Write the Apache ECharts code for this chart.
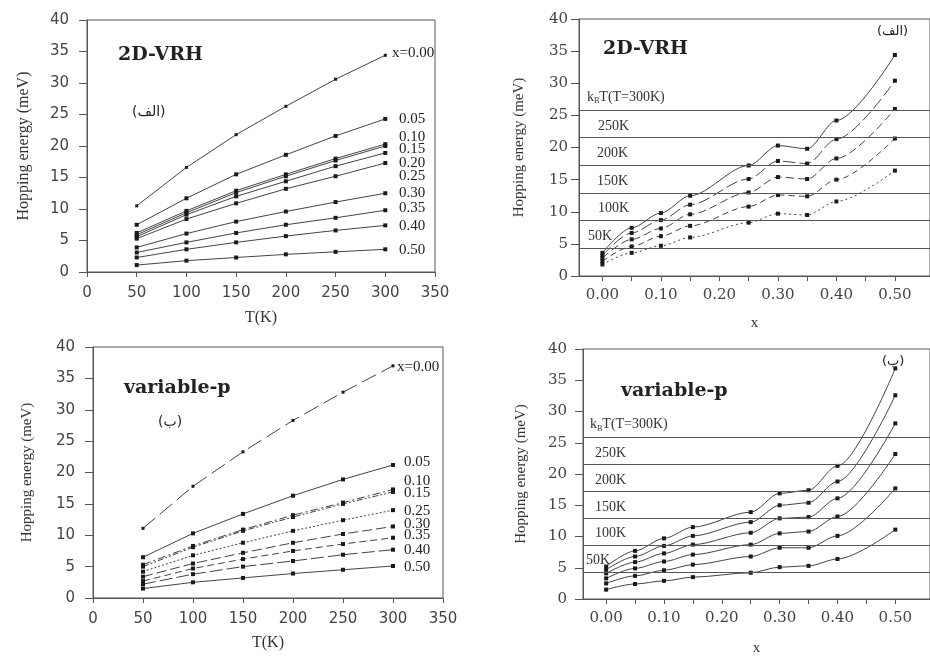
<!DOCTYPE html>
<html><head><meta charset="utf-8">
<script src="https://cdn.jsdelivr.net/npm/echarts@6/dist/echarts.min.js"></script>
<style>html,body{margin:0;padding:0;background:#fff}#c{width:930px;height:657px}</style>
</head><body><div id="c"></div>
<script>
// ---- data ----
const T_K = [50, 100, 150, 200, 250, 300];
const compX = [0, 0.05, 0.10, 0.15, 0.25, 0.30, 0.35, 0.40, 0.50];
const xTickLabels = [0, 0.1, 0.2, 0.3, 0.4, 0.5];
const xTickMarks = [0, 0.05, 0.1, 0.15, 0.2, 0.25, 0.3, 0.35, 0.4, 0.45, 0.5];

// 2D-VRH, energy vs T for each x
const vrhNames = ['x=0.00', '0.05', '0.10', '0.15', '0.20', '0.25', '0.30', '0.35', '0.40', '0.50'];
const vrhX000 = [10.5, 16.6, 21.8, 26.3, 30.6, 34.4];
const vrhX005 = [7.5, 11.7, 15.5, 18.6, 21.6, 24.3];
const vrhX010 = [6.2, 9.7, 12.9, 15.5, 18.0, 20.3];
const vrhX015 = [5.9, 9.4, 12.6, 15.2, 17.7, 20.0];
const vrhX020 = [5.6, 9.1, 12.0, 14.4, 16.8, 18.9];
const vrhX025 = [5.3, 8.4, 10.9, 13.2, 15.2, 17.3];
const vrhX030 = [3.9, 6.1, 8.0, 9.6, 11.1, 12.5];
const vrhX035 = [3.1, 4.7, 6.2, 7.5, 8.6, 9.8];
const vrhX040 = [2.3, 3.6, 4.7, 5.7, 6.6, 7.4];
const vrhX050 = [1.1, 1.8, 2.3, 2.8, 3.2, 3.6];

// variable-p, energy vs T for each x
const varpNames = ['x=0.00', '0.05', '0.10', '0.15', '0.25', '0.30', '0.35', '0.40', '0.50'];
const varpX000 = [11.1, 17.8, 23.3, 28.3, 32.8, 37.0];
const varpX005 = [6.5, 10.3, 13.4, 16.3, 18.9, 21.2];
const varpX010 = [5.3, 8.3, 10.9, 13.2, 15.2, 17.3];
const varpX015 = [5.0, 8.1, 10.7, 12.9, 15.0, 16.9];
const varpX025 = [4.2, 6.8, 8.8, 10.7, 12.4, 14.0];
const varpX030 = [3.4, 5.5, 7.2, 8.8, 10.2, 11.4];
const varpX035 = [2.7, 4.7, 6.2, 7.5, 8.6, 9.6];
const varpX040 = [2.2, 3.8, 5.0, 5.9, 6.9, 7.7];
const varpX050 = [1.5, 2.5, 3.2, 3.9, 4.5, 5.1];

// 2D-VRH, energy vs x for each T
const vrhT300 = [3.6, 7.5, 9.8, 12.5, 17.2, 20.3, 19.8, 24.2, 34.4];
const vrhT250 = [3.2, 6.7, 8.7, 11.1, 15.1, 17.9, 17.5, 21.3, 30.4];
const vrhT200 = [2.8, 5.7, 7.4, 9.6, 13.0, 15.4, 15.1, 18.3, 26.0];
const vrhT150 = [2.3, 4.6, 6.2, 7.8, 10.8, 12.6, 12.4, 15.0, 21.4];
const vrhT100 = [1.8, 3.6, 4.7, 6.0, 8.3, 9.7, 9.5, 11.6, 16.4];

// variable-p, energy vs x for each T
const varpT300 = [5.2, 7.7, 9.7, 11.5, 13.9, 16.9, 17.4, 21.3, 36.9];
const varpT250 = [4.7, 6.8, 8.5, 10.1, 12.3, 15.0, 15.4, 18.8, 32.6];
const varpT200 = [4.1, 5.9, 7.3, 8.7, 10.6, 12.9, 13.1, 16.1, 28.1];
const varpT150 = [3.3, 4.9, 6.0, 7.1, 8.7, 10.5, 10.8, 13.2, 23.2];
const varpT100 = [2.5, 3.7, 4.6, 5.5, 6.8, 8.2, 8.2, 10.1, 17.7];
const varpT50  = [1.5, 2.4, 2.9, 3.5, 4.2, 5.1, 5.3, 6.4, 11.1];

// thermal energy k_B T lines (meV)
const kbValues = [25.85, 21.54, 17.23, 12.93, 8.62, 4.31];
const kbLabels = ['{a|k}{s|B}{a|T(T=300K)}', '250K', '200K', '150K', '100K', '50K'];

// ---- build ----
const pair = (xs, ys) => xs.map((x, i) => [x, ys[i]]);
const SERIF = '"Liberation Serif", "Times New Roman", serif';
const DSERIF = '"DejaVu Serif", serif';
const SANS = '"DejaVu Sans", sans-serif';
const LC = '#444', MC = '#1a1a1a', AX = '#555';

function lineSeries(idx, data, dash, smooth, size) {
  return {
    type: 'line', xAxisIndex: idx, yAxisIndex: idx, data: data,
    symbol: 'rect', symbolSize: size || 4, smooth: smooth || false, smoothMonotone: 'x',
    lineStyle: { color: LC, width: 1, type: dash || 'solid' },
    itemStyle: { color: MC }, animation: false, z: 3
  };
}

const grids = [
  { left: 87, top: 20, width: 348, height: 252 },
  { left: 579, top: 19, width: 366, height: 257 },
  { left: 93, top: 347, width: 350, height: 251 },
  { left: 583, top: 349, width: 365, height: 255 }
].map(g => Object.assign(g, { show: true, borderColor: AX, borderWidth: 1, backgroundColor: 'transparent' }));

function tAxis(idx, gap, nameGap) {
  return {
    type: 'value', gridIndex: idx, min: 0, max: 350, interval: 50,
    name: 'T(K)', nameLocation: 'middle', nameGap: nameGap,
    nameTextStyle: { fontFamily: SERIF, fontSize: 16, color: '#333' },
    axisLine: { show: true, onZero: false, lineStyle: { color: AX } },
    axisTick: { show: true, inside: false, length: 5, lineStyle: { color: AX } },
    axisLabel: { margin: gap, fontFamily: SANS, fontSize: 15, color: '#444' },
    splitLine: { show: false }
  };
}
function xAxisComp(idx, nameGap) {
  return {
    type: 'value', gridIndex: idx, min: -0.04, max: 0.56,
    name: 'x', nameLocation: 'middle', nameGap: nameGap,
    nameTextStyle: { fontFamily: SERIF, fontSize: 15, color: '#333' },
    axisLine: { show: true, onZero: false, lineStyle: { color: AX } },
    axisTick: { show: true, inside: false, length: 5, customValues: xTickMarks, lineStyle: { color: AX } },
    axisLabel: { margin: 12, fontFamily: DSERIF, fontSize: 15, color: '#444', customValues: xTickLabels,
      formatter: v => v.toFixed(2) },
    splitLine: { show: false }
  };
}
function eAxis(idx, font, margin, nameGap, fs) {
  return {
    type: 'value', gridIndex: idx, min: 0, max: 40, interval: 5,
    name: 'Hopping energy (meV)', nameLocation: 'middle', nameGap: nameGap,
    nameTextStyle: { fontFamily: SERIF, fontSize: fs, color: '#333' },
    axisLine: { show: true, onZero: false, lineStyle: { color: AX } },
    axisTick: { show: true, inside: false, length: 8, lineStyle: { color: AX } },
    axisLabel: { margin: margin, fontFamily: font, fontSize: 15, color: '#444' },
    splitLine: { show: false }
  };
}

function kbMarkLine(distances) {
  return {
    silent: true, symbol: 'none', animation: false,
    lineStyle: { color: '#555', width: 1, type: 'solid' },
    label: {
      show: true, position: 'insideStartTop', color: '#333',
      fontFamily: SERIF, fontSize: 14,
      rich: { a: { fontFamily: SERIF, fontSize: 14, color: '#333' },
              s: { fontFamily: SERIF, fontSize: 8, color: '#333', verticalAlign: 'bottom', padding: [8, 0, 0, 0] } }
    },
    data: kbValues.map((v, i) => ({
      yAxis: v,
      label: { formatter: kbLabels[i], distance: distances[i] }
    }))
  };
}

const series = [];
// panel 0: 2D-VRH vs T
[vrhX000, vrhX005, vrhX010, vrhX015, vrhX020, vrhX025, vrhX030, vrhX035, vrhX040, vrhX050]
  .forEach((ys, i) => series.push(lineSeries(0, pair(T_K, ys), 'solid', false, i === 0 ? 3 : 4)));
// panel 2: variable-p vs T
const varpDash = [[16, 6], 'solid', [8, 3, 2, 3], [6, 2, 2, 2, 2, 2], [2, 2], [10, 4], [7, 4], [13, 4], 'solid'];
[varpX000, varpX005, varpX010, varpX015, varpX025, varpX030, varpX035, varpX040, varpX050]
  .forEach((ys, i) => series.push(lineSeries(2, pair(T_K, ys), varpDash[i], false, i === 0 ? 3 : 4)));
// panel 1: 2D-VRH vs x
const vrhTDash = ['solid', [12, 4], [8, 4], [6, 4], [2, 3]];
[vrhT300, vrhT250, vrhT200, vrhT150, vrhT100]
  .forEach((ys, i) => series.push(lineSeries(1, pair(compX, ys), vrhTDash[i], 0.3, 4)));
series[series.length - 5].markLine = kbMarkLine([[8, 5], [19, 4], [18, 5], [18, 5], [19, 5], [9, 5]]);
// panel 3: variable-p vs x
[varpT300, varpT250, varpT200, varpT150, varpT100, varpT50]
  .forEach((ys, i) => series.push(lineSeries(3, pair(compX, ys), 'solid', 0.3, 4)));
series[series.length - 6].markLine = kbMarkLine([[7, 5], [12, 4], [12, 4], [12, 4], [12, 5], [3, 5]]);

// text annotations
function txt(text, x, y, font, size, weight, align) {
  return { type: 'text', x: x, y: y, z: 10,
    style: { text: text, fill: '#222', fontFamily: font, fontSize: size, fontWeight: weight || 'normal',
             align: align || 'left', verticalAlign: 'middle' } };
}
const vrhLabelY = [53, 119, 137, 149, 163, 176, 193, 208, 226, 250];
const varpLabelY = [367, 462, 481, 493, 511, 524, 535, 550, 567];
const graphics = [
  txt('2D-VRH', 118, 55, DSERIF, 19, 'bold'),
  txt('(الف)', 132, 112, SANS, 14),
  txt('2D-VRH', 603, 49, DSERIF, 19, 'bold'),
  txt('(الف)', 877, 32, SANS, 13),
  txt('variable-p', 124, 388, DSERIF, 19, 'bold'),
  txt('(ب)', 158, 422, SANS, 14),
  txt('variable-p', 621, 391, DSERIF, 19, 'bold'),
  txt('(ب)', 882, 362, SANS, 13)
];
vrhNames.forEach((n, i) => graphics.push(txt(n, i === 0 ? 392 : 399, vrhLabelY[i], SERIF, 15)));
varpNames.forEach((n, i) => graphics.push(txt(n, i === 0 ? 397 : 404, varpLabelY[i], SERIF, 15)));

const option = {
  backgroundColor: '#fff',
  animation: false,
  grid: grids,
  xAxis: [tAxis(0, 14, 38), xAxisComp(1, 40), tAxis(2, 14, 37), xAxisComp(3, 42)],
  yAxis: [eAxis(0, SANS, 18, 55, 16), eAxis(1, DSERIF, 11, 52, 15), eAxis(2, SANS, 18, 58, 15), eAxis(3, DSERIF, 16, 54, 15)],
  series: series,
  graphic: graphics
};
const chart = echarts.init(document.getElementById('c'), null, { renderer: 'canvas' });
chart.setOption(option);
</script>
</body></html>
